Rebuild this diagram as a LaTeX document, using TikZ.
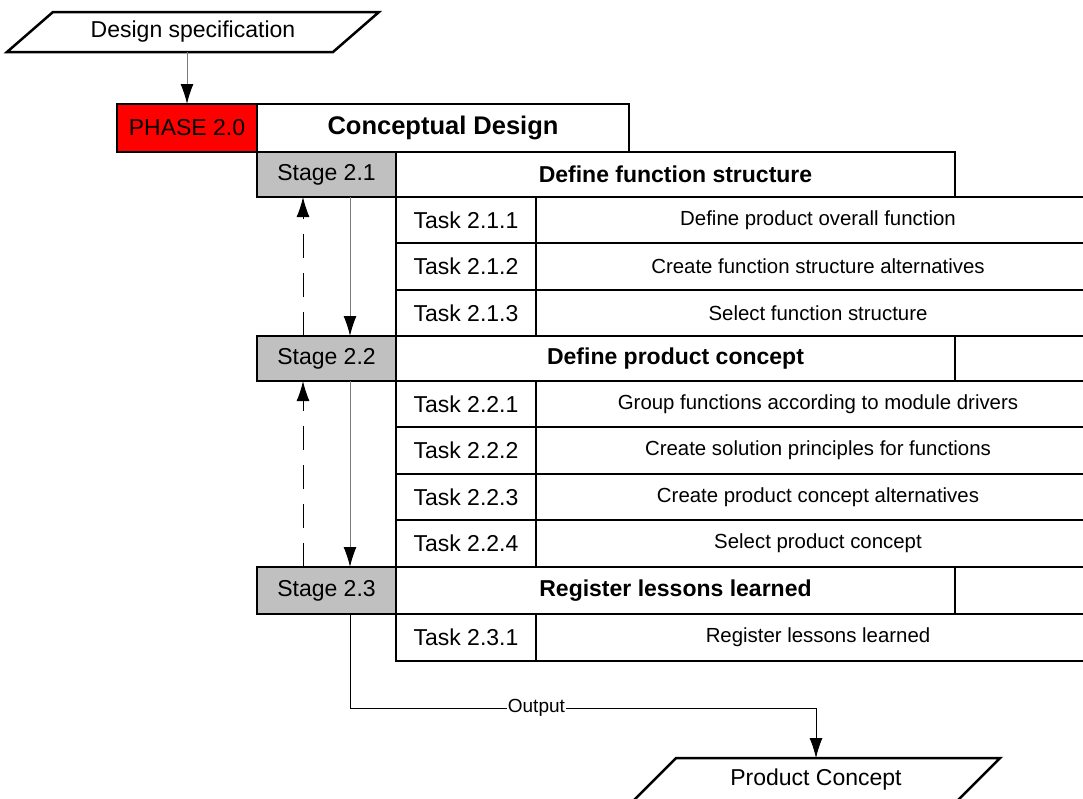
\documentclass[tikz,border=0pt]{standalone}
\usepackage{fontspec}
\setmainfont{Liberation Sans}
\usetikzlibrary{arrows.meta,calc}
\definecolor{stagegray}{HTML}{C0C0C0}
\definecolor{linegray}{HTML}{7A7A7A}
\tikzset{
  box/.style={draw, line width=2.5pt, inner sep=0pt, outer sep=0pt, font=\fontsize{23}{27}\selectfont},
  descbox/.style={box, font=\fontsize{20.4}{24}\selectfont},
  titlebox/.style={box, font=\bfseries\fontsize{23}{27}\selectfont},
  stagebox/.style={box, fill=stagegray},
  phasebox/.style={box, fill=red},
  iobox/.style={inner sep=0pt, outer sep=0pt, font=\fontsize{23}{27}\selectfont},
  ioshape/.style={line width=2.5pt, line join=miter},
  tipstyle/.style={-{Latex[length=20pt,width=13pt,black]}},
  flowline/.style={tipstyle, draw=linegray, line width=1pt},
  backline/.style={tipstyle, draw=black, line width=1pt, dash pattern=on 24pt off 15pt},
  outline/.style={tipstyle, draw=black, line width=0.8pt},
}
\newcommand\taskrow[5]{%
  \node[box, minimum width=140, minimum height=#3] (#1) at (466,#2) {#4};
  \node[descbox, minimum width=564, minimum height=#3] (#1d) at (818,#2) {#5};
}
\begin{document}
\begin{tikzpicture}[x=1pt, y=-1pt]
\useasboundingbox (0,0) rectangle (1083,798);
% input
\node[iobox, minimum width=372, minimum height=40] (ds) at (193,32) {Design specification};
\draw[ioshape] (ds.south west) -- ($(ds.south east)+(-46,0)$) -- (ds.north east) -- ($(ds.north west)+(46,0)$) -- cycle;
% phase
\node[phasebox, minimum width=140, minimum height=48] (phase) at (187,128) {PHASE 2.0};
\node[titlebox, font=\bfseries\fontsize{25.5}{30}\selectfont, minimum width=372, minimum height=48] (cd) at (443,128) {Conceptual Design};
% stage 2.1
\taskrow{t211}{220}{46}{Task 2.1.1}{Define product overall function}
\taskrow{t212}{266.5}{47}{Task 2.1.2}{Create function structure alternatives}
\taskrow{t213}{313}{46}{Task 2.1.3}{Select function structure}
\node[stagebox, minimum width=139, minimum height=45] (s1) at (326.5,174.5) {Stage 2.1};
\node[titlebox, minimum width=559, minimum height=45] (s1t) at (675.5,174.5) {Define function structure};
% stage 2.2
\taskrow{t221}{404}{46}{Task 2.2.1}{Group functions according to module drivers}
\taskrow{t222}{450.5}{47}{Task 2.2.2}{Create solution principles for functions}
\taskrow{t223}{497}{46}{Task 2.2.3}{Create product concept alternatives}
\taskrow{t224}{543.5}{47}{Task 2.2.4}{Select product concept}
\node[stagebox, minimum width=139, minimum height=45] (s2) at (326.5,358.5) {Stage 2.2};
\node[titlebox, minimum width=559, minimum height=45] (s2t) at (675.5,358.5) {Define product concept};
% stage 2.3
\taskrow{t231}{637.5}{47}{Task 2.3.1}{Register lessons learned}
\node[stagebox, minimum width=139, minimum height=47] (s3) at (326.5,590.5) {Stage 2.3};
\node[titlebox, minimum width=559, minimum height=47] (s3t) at (675.5,590.5) {Register lessons learned};
% output
\node[iobox, minimum width=368, minimum height=44] (pc) at (816,780) {Product Concept};
\draw[ioshape] (pc.south west) -- ($(pc.south east)+(-44,0)$) -- (pc.north east) -- ($(pc.north west)+(44,0)$) -- cycle;
% connectors
\draw[flowline] (ds.south -| phase.north) -- (phase.north);
\draw[flowline] ([xshift=23.5pt]s1.south) -- ([xshift=23.5pt]s2.north);
\draw[backline] ([xshift=-23.5pt]s2.north) -- ([xshift=-23.5pt]s1.south);
\draw[flowline] ([xshift=23.5pt]s2.south) -- ([xshift=23.5pt]s3.north);
\draw[backline] ([xshift=-23.5pt]s3.north) -- ([xshift=-23.5pt]s2.south);
\draw[outline] ([xshift=23.5pt]s3.south) -- ++(0,94) -| node[pos=0.2, fill=white, inner sep=1pt, font=\fontsize{19}{22}\selectfont] {Output} (pc.north);
\end{tikzpicture}
\end{document}
